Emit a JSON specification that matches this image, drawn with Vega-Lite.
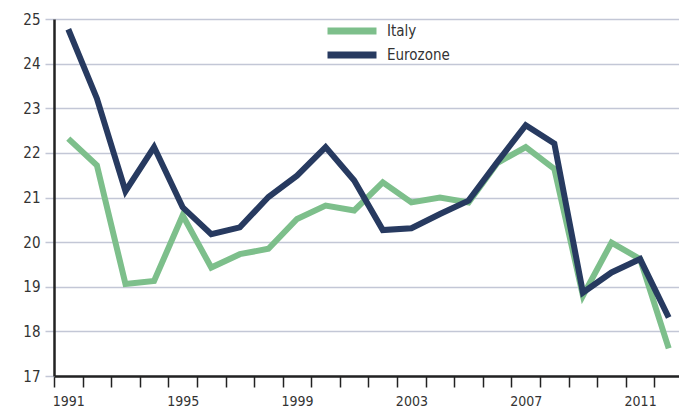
{
  "$schema": "https://vega.github.io/schema/vega-lite/v6.json",
  "width": 629,
  "height": 357,
  "autosize": {"type": "none"},
  "padding": {"left": 54, "top": 19, "right": 0, "bottom": 36},
  "background": "white",
  "config": {"view": {"stroke": null}, "font": "DejaVu Sans Condensed"},
  "data": {"values": [
    {"year": 1991, "series": "Italy", "value": 22.32},
    {"year": 1992, "series": "Italy", "value": 21.72},
    {"year": 1993, "series": "Italy", "value": 19.06},
    {"year": 1994, "series": "Italy", "value": 19.13},
    {"year": 1995, "series": "Italy", "value": 20.6},
    {"year": 1996, "series": "Italy", "value": 19.43},
    {"year": 1997, "series": "Italy", "value": 19.73},
    {"year": 1998, "series": "Italy", "value": 19.85},
    {"year": 1999, "series": "Italy", "value": 20.52},
    {"year": 2000, "series": "Italy", "value": 20.82},
    {"year": 2001, "series": "Italy", "value": 20.71},
    {"year": 2002, "series": "Italy", "value": 21.34},
    {"year": 2003, "series": "Italy", "value": 20.89},
    {"year": 2004, "series": "Italy", "value": 21.0},
    {"year": 2005, "series": "Italy", "value": 20.89},
    {"year": 2006, "series": "Italy", "value": 21.77},
    {"year": 2007, "series": "Italy", "value": 22.13},
    {"year": 2008, "series": "Italy", "value": 21.64},
    {"year": 2009, "series": "Italy", "value": 18.8},
    {"year": 2010, "series": "Italy", "value": 19.99},
    {"year": 2011, "series": "Italy", "value": 19.62},
    {"year": 2012, "series": "Italy", "value": 17.62},
    {"year": 1991, "series": "Eurozone", "value": 24.77},
    {"year": 1992, "series": "Eurozone", "value": 23.22},
    {"year": 1993, "series": "Eurozone", "value": 21.14},
    {"year": 1994, "series": "Eurozone", "value": 22.13},
    {"year": 1995, "series": "Eurozone", "value": 20.78},
    {"year": 1996, "series": "Eurozone", "value": 20.18},
    {"year": 1997, "series": "Eurozone", "value": 20.33},
    {"year": 1998, "series": "Eurozone", "value": 21.01},
    {"year": 1999, "series": "Eurozone", "value": 21.49},
    {"year": 2000, "series": "Eurozone", "value": 22.13},
    {"year": 2001, "series": "Eurozone", "value": 21.38},
    {"year": 2002, "series": "Eurozone", "value": 20.27},
    {"year": 2003, "series": "Eurozone", "value": 20.31},
    {"year": 2004, "series": "Eurozone", "value": 20.63},
    {"year": 2005, "series": "Eurozone", "value": 20.93},
    {"year": 2006, "series": "Eurozone", "value": 21.79},
    {"year": 2007, "series": "Eurozone", "value": 22.62},
    {"year": 2008, "series": "Eurozone", "value": 22.21},
    {"year": 2009, "series": "Eurozone", "value": 18.87},
    {"year": 2010, "series": "Eurozone", "value": 19.32},
    {"year": 2011, "series": "Eurozone", "value": 19.62},
    {"year": 2012, "series": "Eurozone", "value": 18.31}
  ]},
  "mark": {"type": "line", "strokeWidth": 6, "strokeJoin": "miter", "strokeCap": "butt"},
  "encoding": {
    "x": {
      "field": "year", "type": "ordinal",
      "scale": {"type": "band", "paddingInner": 0, "paddingOuter": 0},
      "axis": {
        "title": null, "tickBand": "extent", "labelAngle": 0, "labelOverlap": false,
        "labelExpr": "(datum.value - 1991) % 4 == 0 ? datum.label : ''",
        "domainColor": "#222222", "domainWidth": 2.5,
        "tickColor": "#222222", "tickWidth": 1.5, "tickSize": 11,
        "labelFont": "DejaVu Sans Condensed", "labelFontSize": 14, "labelColor": "#333333", "labelPadding": 7,
        "grid": false
      }
    },
    "y": {
      "field": "value", "type": "quantitative",
      "scale": {"domain": [17, 25], "nice": false, "zero": false},
      "axis": {
        "title": null, "values": [17, 18, 19, 20, 21, 22, 23, 24, 25],
        "grid": true, "gridColor": "#c3c7d6", "gridWidth": 1.5,
        "tickColor": "#c3c7d6", "tickWidth": 1.5, "tickSize": 9,
        "domainColor": "#222222", "domainWidth": 2.5,
        "labelFont": "DejaVu Sans Condensed", "labelFontSize": 15, "labelColor": "#333333", "labelPadding": 5
      }
    },
    "color": {
      "field": "series", "type": "nominal",
      "scale": {"domain": ["Italy", "Eurozone"], "range": ["#7dbf8b", "#273a60"]},
      "legend": {
        "orient": "none", "legendX": 288, "legendY": 2, "title": null,
        "symbolType": "M-4,0H4", "symbolSize": 150, "symbolStrokeWidth": 7,
        "labelFont": "DejaVu Sans Condensed", "labelFontSize": 15, "labelColor": "#333333",
        "labelOffset": 25, "rowPadding": -6, "padding": 0
      }
    }
  }
}
